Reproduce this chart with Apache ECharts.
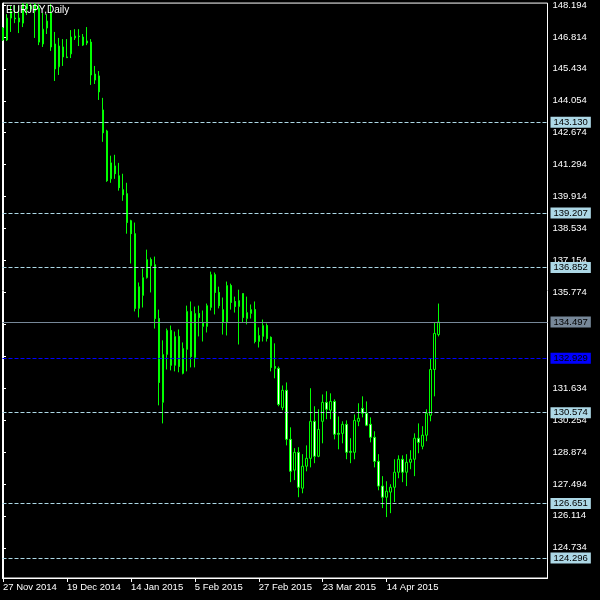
<!DOCTYPE html>
<html><head><meta charset="utf-8">
<script src="https://cdn.jsdelivr.net/npm/echarts@6/dist/echarts.min.js"></script>
<style>html,body{margin:0;padding:0;background:#000}#c{width:600px;height:600px}</style>
</head><body><div id="c"></div>
<script>
// Daily EURJPY bars (open, close, low, high), oldest first
const opens  = [146.68,146.68,147.93,147.63,147.63,147.41,148.23,148.02,148.23,148.06,
  146.51,147.20,147.85,146.51,145.52,146.38,145.95,146.08,146.77,146.85,
  146.81,146.55,146.59,145.21,145.13,143.66,142.75,140.68,141.24,140.81,
  140.21,140.04,138.87,138.31,135.08,135.64,136.41,137.19,136.97,134.64,
  131.02,133.09,134.13,132.62,133.87,132.27,133.31,134.95,132.96,134.86,
  134.30,134.30,135.12,136.54,135.77,134.47,134.47,136.07,135.38,135.16,
  135.72,134.64,134.86,135.03,133.65,133.87,134.34,133.83,132.57,132.49,
  130.80,131.54,129.42,128.09,128.86,127.31,128.26,128.60,130.20,128.69,
  130.20,131.02,130.68,131.06,129.68,129.68,130.07,128.90,128.86,130.20,
  130.76,130.55,130.07,129.51,128.47,127.40,126.92,127.14,127.35,128.00,
  128.56,128.00,128.43,128.56,129.47,129.12,129.60,130.46,132.44,133.95];
const closes = [147.20,147.63,147.63,147.60,147.46,148.23,148.02,148.15,147.93,146.59,
  147.15,147.50,146.38,145.43,146.42,145.95,145.92,146.81,146.85,146.83,
  146.46,146.64,145.17,144.95,144.44,142.67,140.60,141.37,140.90,140.30,
  139.99,138.79,138.31,135.08,136.02,136.41,137.19,136.93,134.64,131.88,
  133.09,134.13,132.62,133.87,132.57,133.35,134.95,133.00,134.86,134.69,
  134.47,135.20,136.54,135.77,135.20,135.03,136.07,135.34,135.16,135.42,
  134.69,134.90,135.03,133.65,133.91,134.34,133.78,132.53,132.49,130.93,
  131.54,129.42,128.04,128.86,127.35,128.26,128.60,130.20,128.69,129.85,
  131.02,130.72,131.06,129.64,129.64,130.07,128.86,128.86,130.24,130.33,
  130.55,130.03,129.51,128.47,127.40,126.92,127.18,127.35,128.00,128.56,
  128.00,128.43,128.56,129.47,129.29,129.60,130.55,132.44,134.00,134.497];
const lows   = [146.64,146.64,147.03,147.41,146.98,147.24,147.76,147.90,146.77,146.46,
  146.38,146.94,146.21,144.91,145.17,145.56,145.90,145.90,146.68,146.42,
  146.42,146.46,144.74,144.78,144.09,142.28,140.55,140.51,140.68,140.17,
  139.73,138.31,137.02,134.95,134.69,135.12,136.37,135.77,134.21,130.89,
  130.11,132.44,132.40,132.36,132.32,132.23,132.36,132.53,132.53,133.87,
  133.65,134.04,134.99,134.82,135.08,133.95,133.91,135.03,134.90,133.52,
  134.47,134.39,134.64,133.57,133.39,133.65,133.65,132.36,132.06,130.85,
  130.68,129.16,127.57,127.66,126.92,127.09,128.04,128.21,128.39,128.65,
  129.25,130.29,130.29,129.42,128.99,129.25,128.56,128.39,128.56,129.99,
  130.37,129.99,129.29,128.21,127.22,126.45,126.06,126.23,126.71,127.74,
  127.57,127.40,128.13,127.83,128.82,128.99,129.34,130.20,131.28,133.87];
const highs  = [147.24,147.80,148.15,148.19,148.15,148.27,148.27,148.25,148.27,148.23,
  147.85,147.80,148.23,147.03,146.77,146.72,146.72,147.11,147.15,147.15,
  146.94,147.24,146.72,145.56,145.34,144.18,142.80,141.68,141.72,141.37,
  140.90,140.51,138.91,138.79,136.20,136.80,137.62,137.28,137.32,135.03,
  133.70,134.21,134.34,134.08,134.17,133.61,135.20,135.38,135.16,135.20,
  134.99,135.29,136.67,136.63,136.02,135.55,136.24,136.15,135.59,135.89,
  135.72,135.59,135.25,135.38,134.26,134.60,134.43,133.87,133.57,132.57,
  131.75,131.88,129.94,129.04,129.08,128.78,129.16,131.63,130.85,130.72,
  131.36,131.50,131.41,131.15,130.41,130.20,130.24,129.47,130.50,130.98,
  131.28,131.06,130.37,129.77,128.78,127.83,127.61,127.48,128.56,128.73,
  128.73,128.78,128.95,129.68,130.11,129.99,130.72,132.92,134.47,135.29];

const dateLabels    = ['27 Nov 2014','19 Dec 2014','14 Jan 2015','5 Feb 2015','27 Feb 2015','23 Mar 2015','14 Apr 2015'];
const dateLabelBars = [0,16,32,48,64,80,96];
const priceTicks = [148.194,146.814,145.434,144.054,142.674,141.294,139.914,138.534,137.154,
  135.774,134.394,133.014,131.634,130.254,128.874,127.494,126.114,124.734];
const dashedLevels = [143.130,139.207,136.852,130.574,126.651,124.296];
const bidLevel  = 134.497;
const blueLevel = 132.929;

const FONT = "'Liberation Sans',Arial,sans-serif";
const FS = 9.5;
const data = opens.map((o,i)=>[i,o,closes[i],lows[i],highs[i]]);

const chart = echarts.init(document.getElementById('c'));
const lvlLabel = (bg,fg)=>({backgroundColor:bg,color:fg});
chart.setOption({
  backgroundColor:'#000',
  animation:false,
  title:{text:'EURJPY,Daily',left:6,top:5,padding:0,
    textStyle:{color:'#fff',fontFamily:FONT,fontSize:10,fontWeight:'normal'}},
  grid:{left:2,right:52.5,top:2,bottom:22,show:true,borderColor:'#fff',borderWidth:1},
  xAxis:{type:'value',min:-0.125,max:136.25,
    axisLine:{show:true,lineStyle:{color:'#fff'}},
    axisTick:{show:true,length:4,customValues:dateLabelBars,lineStyle:{color:'#fff'}},
    axisLabel:{color:'#fff',fontFamily:FONT,fontSize:FS,customValues:dateLabelBars,
      formatter:v=>dateLabels[dateLabelBars.indexOf(Math.round(v))]||'',align:'left',margin:4},
    splitLine:{show:false}},
  yAxis:{type:'value',position:'right',min:123.428,max:148.277,
    axisLine:{show:true,lineStyle:{color:'#fff'}},
    axisTick:{show:true,length:3,customValues:priceTicks,lineStyle:{color:'#fff'}},
    axisLabel:{color:'#fff',fontFamily:FONT,fontSize:FS,customValues:priceTicks,
      formatter:v=>Number(v).toFixed(3),margin:5},
    splitLine:{show:false}},
  series:[{
    type:'candlestick',data:data,encode:{x:0,y:[1,2,3,4]},barWidth:2,
    itemStyle:{color:'#000',color0:'#fff',borderColor:'#00ff00',borderColor0:'#00ff00',
      borderColorDoji:'#00ff00',borderWidth:1},
    markLine:{silent:true,symbol:['none','none'],animation:false,precision:3,
      label:{show:true,position:'end',distance:3,formatter:p=>Number(p.value).toFixed(3),
        fontFamily:FONT,fontSize:FS,padding:[1,3,0,3],lineHeight:10},
      data:[
        ...dashedLevels.map(v=>({yAxis:v,lineStyle:{color:'#add8e6',type:[4,2],width:1},label:lvlLabel('#add8e6','#000')})),
        {yAxis:bidLevel,lineStyle:{color:'#778899',type:'solid',width:1},label:lvlLabel('#778899','#000')},
        {yAxis:blueLevel,lineStyle:{color:'#0000ff',type:[4,2],width:1},label:lvlLabel('#0000ff','#000')}
      ]}
  }]
});
</script></body></html>
